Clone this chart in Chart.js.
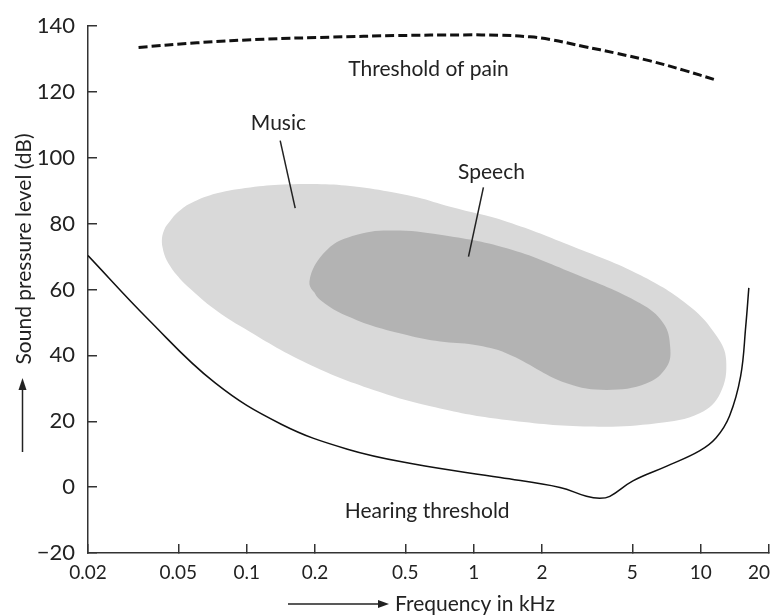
<!DOCTYPE html>
<html>
<head>
<meta charset="utf-8">
<title>Auditory area</title>
<script src="https://cdn.jsdelivr.net/npm/chart.js@4.4.1/dist/chart.umd.min.js"></script>
<style>
  html, body { margin: 0; padding: 0; background: #fff; }
  #chart { display: block; }
</style>
</head>
<body>
<canvas id="chart" width="772" height="615"></canvas>
<script>
// Axis ticks
const xTicks = [0.02, 0.05, 0.1, 0.2, 0.5, 1, 2, 5, 10, 20];
const xTickLabels = ['0.02', '0.05', '0.1', '0.2', '0.5', '1', '2', '5', '10', '20'];
const yTicks = [-20, 0, 20, 40, 60, 80, 100, 120, 140];

// Threshold of pain (kHz, dB)
const painFreq  = [0.0334, 0.0604, 0.1186, 0.233, 0.459, 0.902, 1.31, 1.77, 2.17, 3.05, 4.27, 5.99, 8.4, 11.8];
const painLevel = [133.5, 134.9, 136.0, 136.6, 137.1, 137.3, 137.2, 136.7, 135.9, 133.8, 131.7, 129.4, 126.6, 123.5];

// Hearing threshold (kHz, dB)
const hearingFreq  = [0.02, 0.0369, 0.0724, 0.142, 0.278, 0.545, 1.31, 2.40, 3.14, 3.59, 3.98, 5.03, 7.05, 9.88, 11.7, 13.4, 15.0, 15.8, 16.3];
const hearingLevel = [70.3, 50.9, 31.7, 19.1, 11.5, 7.0, 2.9, -0.1, -2.8, -3.4, -2.8, 1.9, 6.3, 11.0, 15.0, 21.6, 33.7, 48.9, 60.5];

// Outline of the music area (kHz, dB), clockwise from the low-frequency end
const musicFreq  = [0.0423, 0.0433, 0.0460, 0.0493, 0.0564, 0.0739, 0.1036, 0.1453, 0.2039, 0.2857, 0.4006, 0.5621, 0.788, 1.40, 2.75, 5.41, 8.99, 11.8, 12.95, 12.2, 9.95, 6.41, 3.26, 1.40, 0.712, 0.362, 0.184, 0.0936, 0.0691, 0.0564, 0.0509, 0.0460, 0.0433];
const musicLevel = [74.5, 78.1, 80.8, 83.2, 86.1, 89.2, 91.0, 91.9, 92.0, 91.4, 90.0, 88.0, 85.1, 80.6, 73.0, 64.4, 54.8, 45.7, 38.6, 28.5, 22.5, 19.4, 18.4, 20.4, 23.9, 29.5, 37.6, 48.9, 55.0, 60.2, 63.2, 67.1, 70.8];

// Outline of the speech area (kHz, dB)
const speechFreq  = [0.189, 0.2256, 0.306, 0.443, 0.712, 1.40, 2.75, 5.41, 6.86, 7.34, 7.10, 5.79, 3.86, 2.57, 1.40, 1.0, 0.712, 0.508, 0.306, 0.211];
const speechLevel = [62.4, 72.0, 76.6, 77.9, 76.6, 72.5, 64.9, 55.8, 49.7, 42.6, 36.6, 31.5, 29.5, 31.5, 40.6, 43.2, 44.2, 46.2, 50.7, 56.8];

// Pointer lines from the labels into the areas
const musicPointerFreq   = [0.1405, 0.1636];
const musicPointerLevel  = [105.2, 84.7];
const speechPointerFreq  = [1.104, 0.949];
const speechPointerLevel = [91.0, 70.0];

// Text labels placed in data space (centre frequency, baseline level)
const noteTexts = ['Threshold of pain', 'Music', 'Speech', 'Hearing threshold'];
const noteFreq  = [0.633, 0.138, 1.198, 0.624];
const noteLevel = [124.8, 108.3, 93.7, -9.45];

const FONT = 'Lato, "Open Sans", "DejaVu Sans", sans-serif';
const INK = '#222';
const AXIS = '#333';

const toPoints = (fs, ls) => fs.map((f, i) => ({ x: f, y: ls[i] }));
// wrap the outline so the smoothed curve closes without a kink
const closedOutline = pts => [pts[pts.length - 1], ...pts, pts[0]];

const annotations = {
  id: 'annotations',
  afterDraw(chart) {
    const { ctx, scales: { x, y } } = chart;
    ctx.save();
    ctx.fillStyle = INK;
    ctx.strokeStyle = INK;

    // frequency tick labels, kept inside the canvas at the right edge
    ctx.font = `19px ${FONT}`;
    ctx.textBaseline = 'alphabetic';
    ctx.textAlign = 'left';
    xTicks.forEach((v, i) => {
      const txt = xTickLabels[i];
      const w = ctx.measureText(txt).width;
      let left = x.getPixelForValue(v) - w / 2;
      if (left + w > chart.width - 2) left = chart.width - 2 - w;
      ctx.fillText(txt, left, x.top + 26);
    });

    // area and curve labels
    ctx.font = `21px ${FONT}`;
    ctx.textAlign = 'center';
    noteTexts.forEach((t, i) => {
      ctx.fillText(t, x.getPixelForValue(noteFreq[i]), y.getPixelForValue(noteLevel[i]));
    });

    // vertical axis title with upward arrow
    ctx.save();
    ctx.translate(31, 249);
    ctx.rotate(-Math.PI / 2);
    ctx.textAlign = 'center';
    ctx.fillText('Sound pressure level (dB)', 0, 0);
    ctx.restore();

    ctx.lineWidth = 1.5;
    ctx.beginPath();
    ctx.moveTo(22.5, 452);
    ctx.lineTo(22.5, 388);
    ctx.stroke();
    ctx.beginPath();
    ctx.moveTo(22.5, 378);
    ctx.lineTo(18.5, 390);
    ctx.lineTo(26.5, 390);
    ctx.closePath();
    ctx.fill();

    // horizontal axis title with rightward arrow
    ctx.beginPath();
    ctx.moveTo(288, 604);
    ctx.lineTo(380, 604);
    ctx.stroke();
    ctx.beginPath();
    ctx.moveTo(389, 604);
    ctx.lineTo(378, 600);
    ctx.lineTo(378, 608);
    ctx.closePath();
    ctx.fill();

    ctx.textAlign = 'left';
    ctx.fillText('Frequency in kHz', 395, 611);
    ctx.restore();
  }
};

new Chart(document.getElementById('chart'), {
  type: 'scatter',
  data: {
    datasets: [
      {
        label: 'Music',
        data: closedOutline(toPoints(musicFreq, musicLevel)),
        showLine: true,
        fill: 'shape',
        backgroundColor: '#d9d9d9',
        borderColor: 'rgba(0,0,0,0)',
        borderWidth: 0,
        tension: 0.4,
        order: 4
      },
      {
        label: 'Speech',
        data: closedOutline(toPoints(speechFreq, speechLevel)),
        showLine: true,
        fill: 'shape',
        backgroundColor: '#b3b3b3',
        borderColor: 'rgba(0,0,0,0)',
        borderWidth: 0,
        tension: 0.4,
        order: 3
      },
      {
        label: 'Threshold of pain',
        data: toPoints(painFreq, painLevel),
        showLine: true,
        fill: false,
        borderColor: '#111',
        borderWidth: 3,
        borderDash: [9, 4],
        tension: 0.4,
        order: 1
      },
      {
        label: 'Hearing threshold',
        data: toPoints(hearingFreq, hearingLevel),
        showLine: true,
        fill: false,
        borderColor: '#111',
        borderWidth: 1.5,
        tension: 0.4,
        order: 1
      },
      {
        label: 'Music pointer',
        data: toPoints(musicPointerFreq, musicPointerLevel),
        showLine: true,
        fill: false,
        borderColor: '#222',
        borderWidth: 1.5,
        order: 1
      },
      {
        label: 'Speech pointer',
        data: toPoints(speechPointerFreq, speechPointerLevel),
        showLine: true,
        fill: false,
        borderColor: '#222',
        borderWidth: 1.5,
        order: 1
      }
    ]
  },
  options: {
    responsive: false,
    animation: false,
    devicePixelRatio: 1,
    events: [],
    layout: { padding: { top: 26, right: 3, bottom: 0, left: 0 } },
    elements: { point: { radius: 0, hoverRadius: 0 } },
    plugins: {
      legend: { display: false },
      tooltip: { enabled: false }
    },
    scales: {
      x: {
        type: 'logarithmic',
        position: 'bottom',
        min: 0.02,
        max: 20,
        afterBuildTicks: s => { s.ticks = xTicks.map(v => ({ value: v })); },
        afterFit: s => { s.height = 62; s.paddingLeft = 0; s.paddingRight = 0; },
        ticks: { display: false },
        grid: { drawOnChartArea: false, drawTicks: true, tickLength: -9, color: AXIS, lineWidth: 1.5 },
        border: { display: true, color: AXIS, width: 1.5 }
      },
      y: {
        type: 'linear',
        position: 'left',
        min: -20,
        max: 140,
        afterBuildTicks: s => { s.ticks = yTicks.map(v => ({ value: v })); },
        afterFit: s => { s.width = 88; s.paddingTop = 0; s.paddingBottom = 0; },
        ticks: {
          autoSkip: false,
          padding: 22,
          color: INK,
          font: { family: FONT, size: 22 },
          callback: v => (v < 0 ? '\u2212' + Math.abs(v) : String(v))
        },
        grid: { drawOnChartArea: false, drawTicks: true, tickLength: -9, color: AXIS, lineWidth: 1.5 },
        border: { display: true, color: AXIS, width: 1.5 }
      }
    }
  },
  plugins: [annotations]
});
</script>
</body>
</html>
